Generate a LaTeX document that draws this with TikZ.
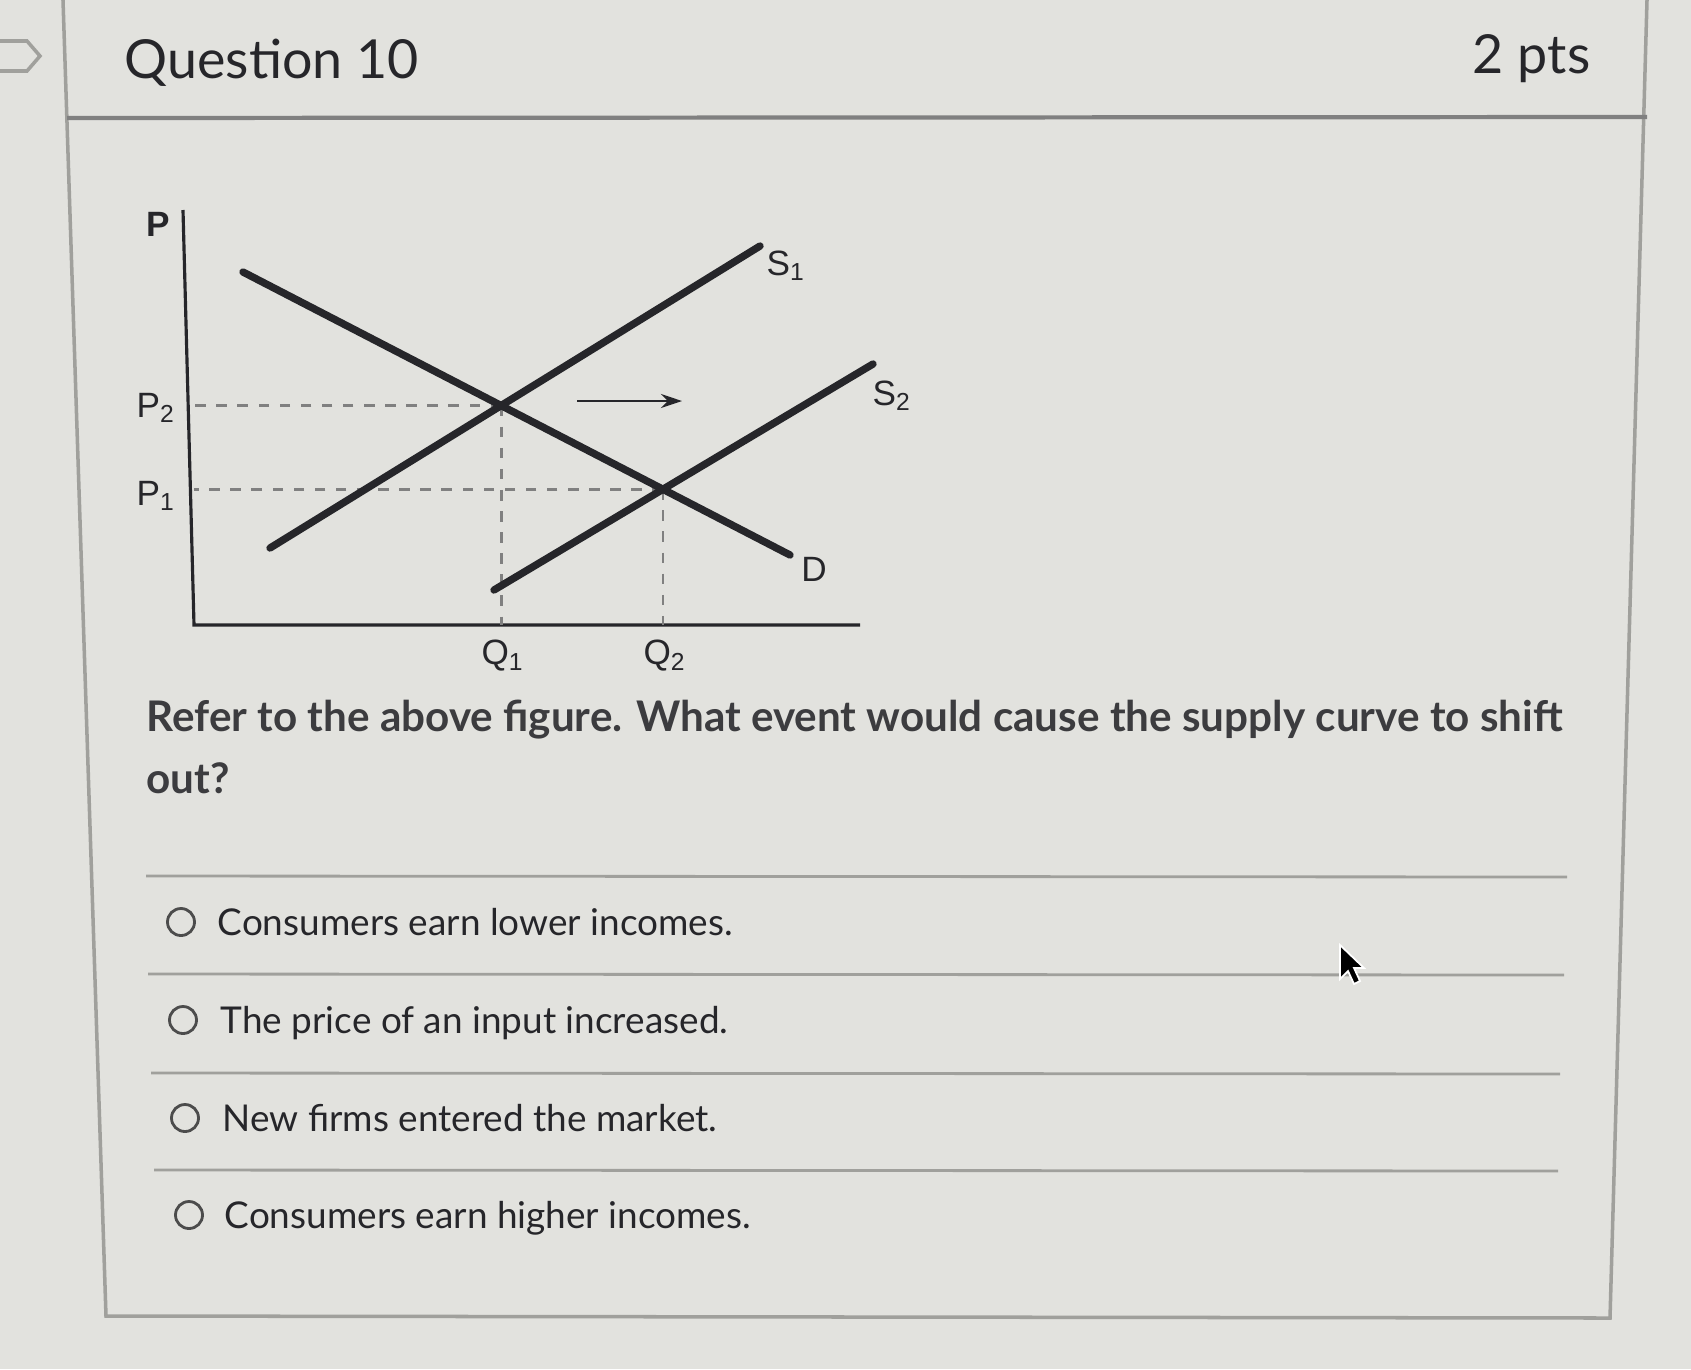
\documentclass[tikz,border=0pt]{standalone}
\usepackage{fontspec}
\setmainfont{Lato}
\newfontfamily\graphfont{Liberation Sans}
\usetikzlibrary{arrows.meta}
\definecolor{screen}{RGB}{226,226,222}
\definecolor{rulegray}{RGB}{160,160,156}
\definecolor{ink}{RGB}{38,38,42}

\tikzset{
  curve/.style={line width=2.1pt,ink,line cap=round},
  guide/.style={dashed,gray,line width=0.8pt},
  glabel/.style={font=\graphfont\fontsize{10}{10}\selectfont,ink,inner sep=0pt},
  headtext/.style={font=\fontsize{15.3}{19}\selectfont,ink,inner sep=0pt},
  asktext/.style={font=\bfseries\fontsize{12}{15}\selectfont,ink!90,inner sep=0pt,anchor=base west},
  answer/.style={font=\fontsize{10.5}{13}\selectfont,ink,inner sep=0pt,anchor=base west},
  radio/.style={circle,draw=gray!60!black,line width=0.8pt,minimum size=0.27cm,inner sep=0pt},
  sep/.style={rulegray,line width=0.8pt}
}

\begin{document}
\begin{tikzpicture}[x=0.01cm,y=-0.01cm]
\fill[screen] (0,0) rectangle (1691,1369);
\useasboundingbox (0,0) rectangle (1691,1369);

% card frame
\draw[rulegray,line width=1pt] (63,0) -- (106,1316) -- (1610,1318) -- (1647,0);
\draw[gray,line width=1.2pt] (67,118) -- (1647,117);
\draw[rulegray,line width=1pt] (0,41) -- (27,41) -- (40,56) -- (27,71) -- (0,71);

\node[headtext,anchor=base west] (qtitle) at (124,78) {Question 10};
\node[headtext,anchor=base east] (qpts) at (1591,73) {2 pts};

% supply and demand graph
\coordinate (ytop) at (183,210);
\coordinate (orig) at (194,625);
\coordinate (xend) at (860,625);
\draw[ink,line width=0.9pt] (ytop) -- (orig) -- (xend);

\coordinate (dA) at (243,272);
\coordinate (dB) at (790,555);
\coordinate (sA1) at (270,548);
\coordinate (sB1) at (760,246);
\coordinate (sA2) at (494,590);
\coordinate (sB2) at (873,364);
\coordinate (eOne) at (intersection of dA--dB and sA1--sB1);
\coordinate (eTwo) at (intersection of dA--dB and sA2--sB2);

\draw[guide] (eOne) -- (eOne -| orig);
\draw[guide] (eTwo) -- (eTwo -| orig);
\draw[guide] (eOne) -- (eOne |- orig);
\draw[guide] (eTwo) -- (eTwo |- orig);

\draw[curve] (dA) -- (dB);
\draw[curve] (sA1) -- (sB1);
\draw[curve] (sA2) -- (sB2);

\coordinate (shiftA) at (577,401);
\coordinate (shiftB) at (682,401);
\draw[ink,line width=0.8pt,-{Stealth[length=6pt,width=4pt]}] (shiftA) -- (shiftB);

\node[glabel] (plab) at (158,224) {\bfseries P};
\node[glabel] (ptwo) at (156,408) {P\textsubscript{2}};
\node[glabel] (pone) at (156,496) {P\textsubscript{1}};
\node[glabel] (qone) at (503,656) {Q\textsubscript{1}};
\node[glabel] (qtwo) at (665,656) {Q\textsubscript{2}};
\node[glabel] (sone) at (786,266) {S\textsubscript{1}};
\node[glabel] (stwo) at (892,396) {S\textsubscript{2}};
\node[glabel] (dlab) at (814,569) {D};

% question
\node[asktext] (ask1) at (146,731) {Refer to the above figure. What event would cause the supply curve to shift};
\node[asktext] (ask2) at (146,793) {out?};

% answers
\draw[sep] (146,876) -- (1567,877);
\draw[sep] (148,974) -- (1564,975);
\draw[sep] (151,1073) -- (1560,1074);
\draw[sep] (154,1170) -- (1558,1171);

\node[radio] (rone) at (181,922) {};
\node[radio] (rtwo) at (183,1020) {};
\node[radio] (rthree) at (185,1118) {};
\node[radio] (rfour) at (189,1215) {};
\node[answer] (aone) at (217,935) {Consumers earn lower incomes.};
\node[answer] (atwo) at (220,1033) {The price of an input increased.};
\node[answer] (athree) at (222,1131) {New firms entered the market.};
\node[answer] (afour) at (224,1228) {Consumers earn higher incomes.};

% mouse pointer
\fill[black,draw=white,line width=0.5pt] (1340,945) -- (1340,979) -- (1348,971) -- (1354,984) -- (1360,981) -- (1354,968) -- (1364,968) -- cycle;
\end{tikzpicture}
\end{document}
